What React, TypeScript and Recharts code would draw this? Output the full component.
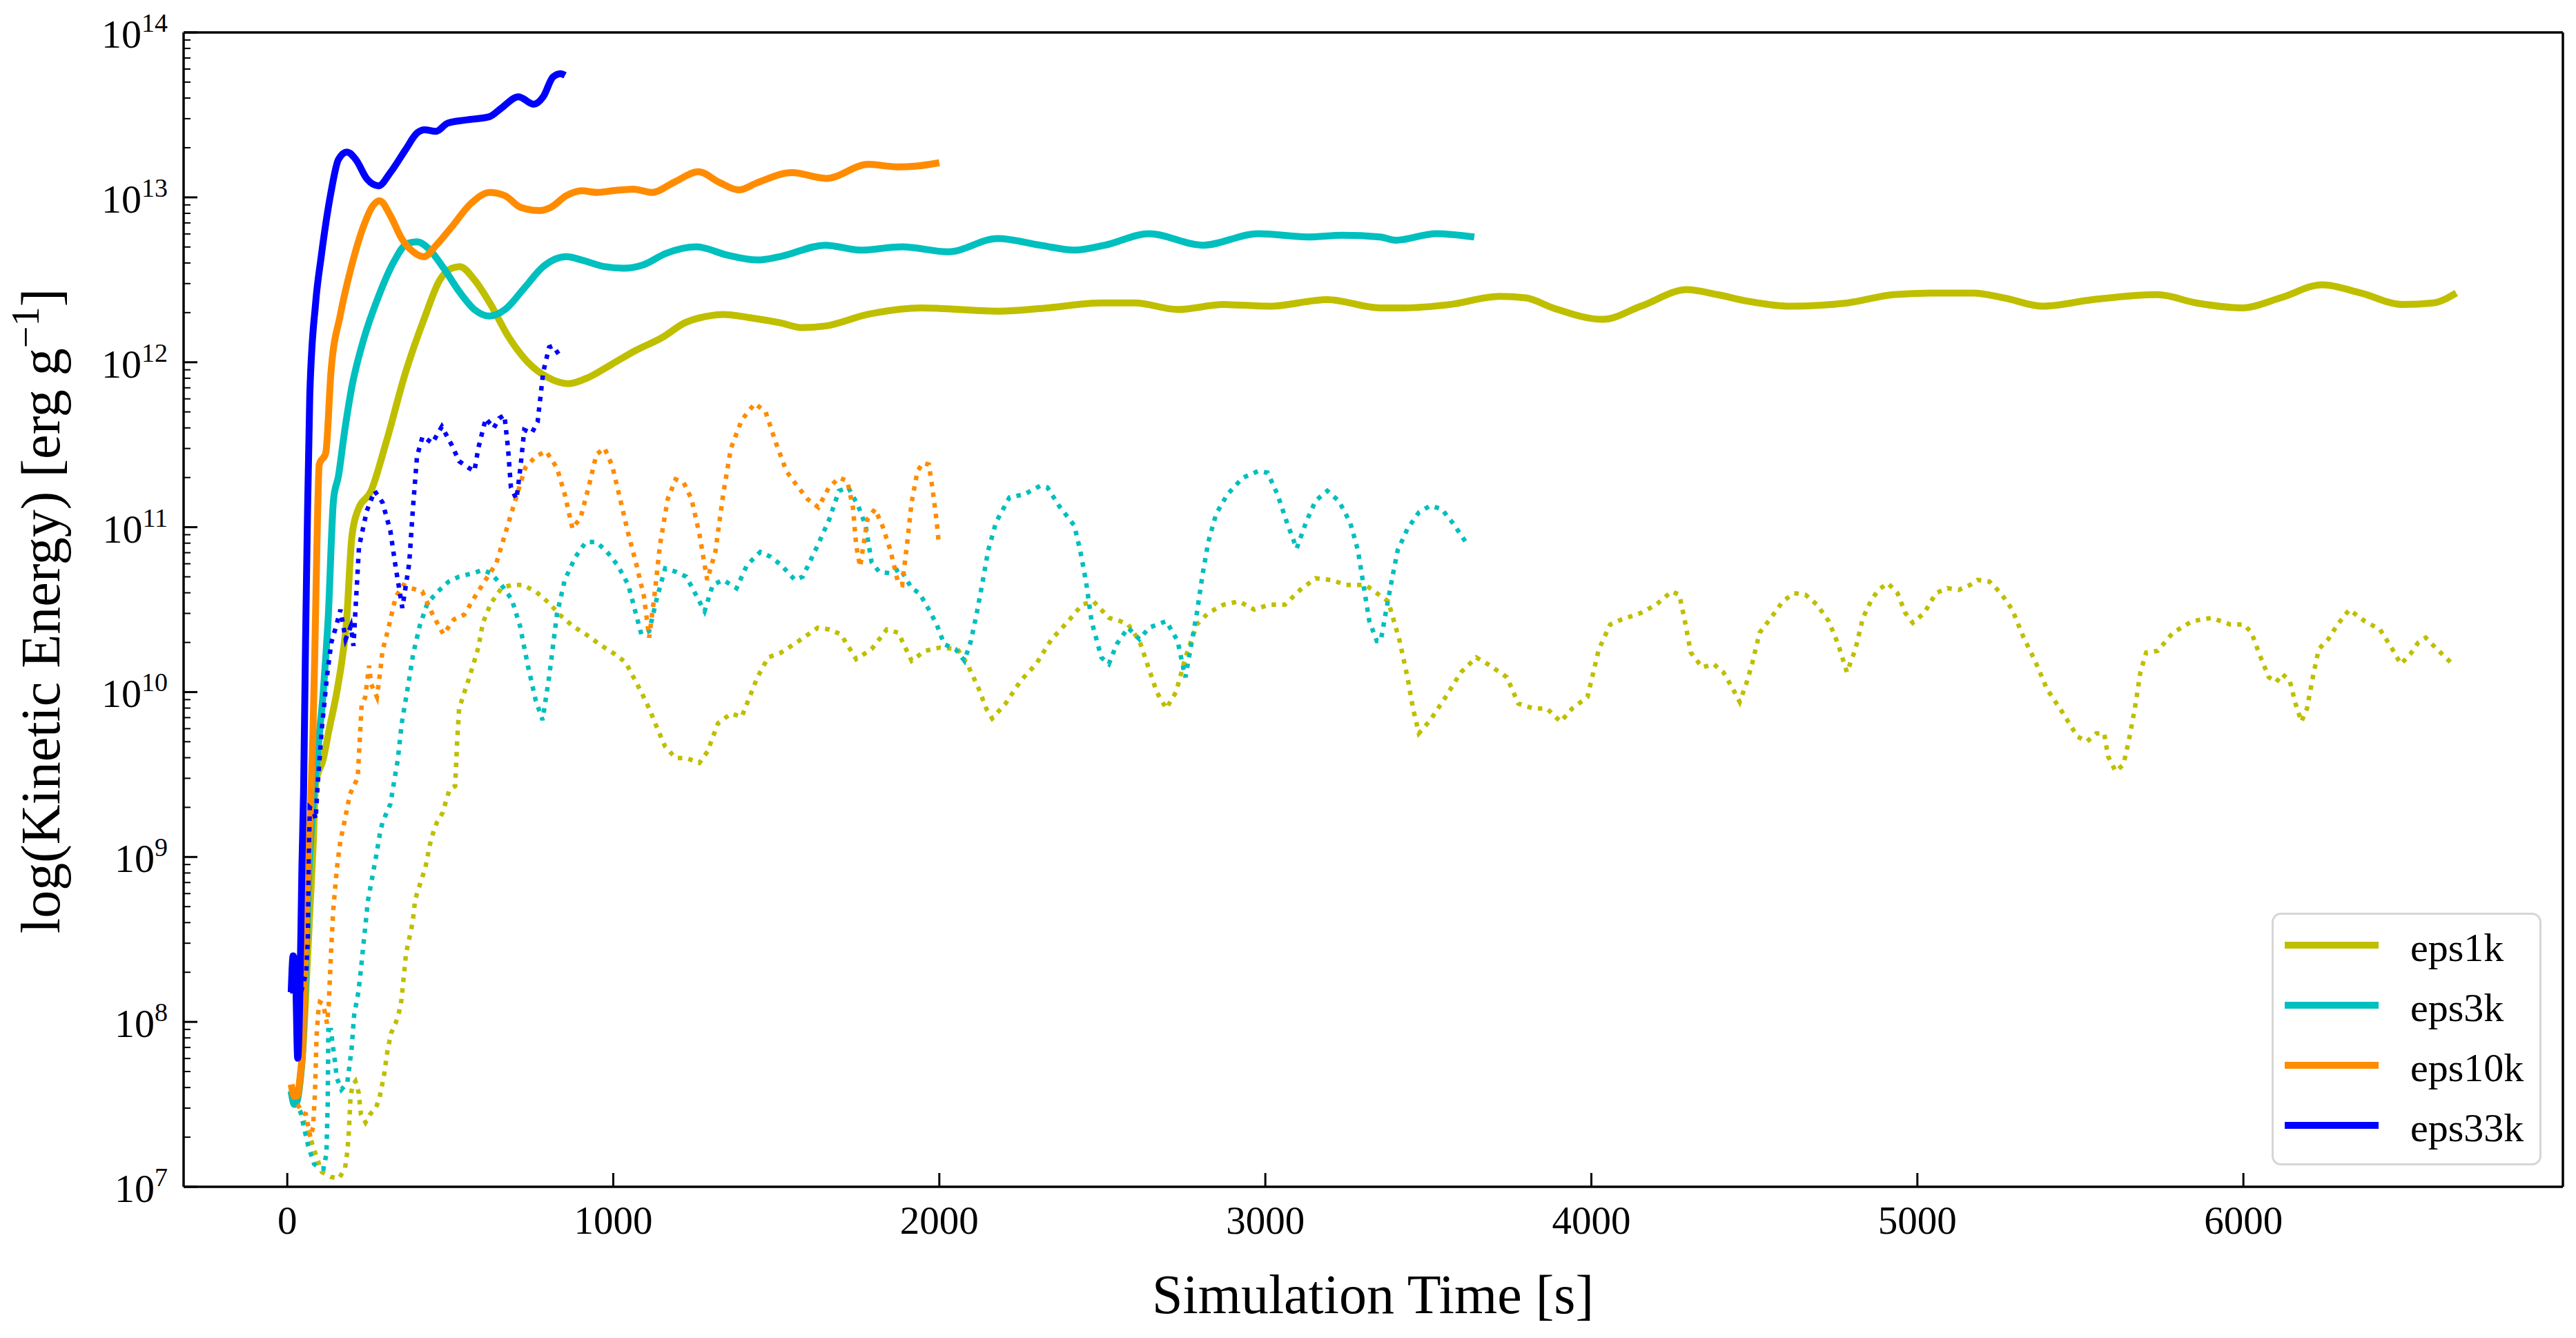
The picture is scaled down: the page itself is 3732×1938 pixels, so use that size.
import React from "react";
import { LineChart, Line, XAxis, YAxis, Legend, ReferenceLine } from "recharts";

const FONT = '"Liberation Serif", "DejaVu Serif", serif';

// [time in s, log10(kinetic energy in erg/g)]
// solid = total, dotted = second component
const eps1kSolid: [number, number][] = [
  [12, 7.58], [22, 7.5], [30, 7.52], [40, 7.65], [50, 7.9], [60, 8.3], [70, 8.7], [80, 9.1], [87, 9.45],
  [110, 9.59], [128, 9.77], [151, 9.99], [169, 10.21], [181, 10.41], [198, 10.94], [216, 11.1], [257, 11.22],
  [304, 11.52], [363, 11.94], [421, 12.27], [468, 12.5], [504, 12.57], [529, 12.58], [574, 12.5], [621, 12.36],
  [680, 12.15], [738, 12.0], [797, 11.91], [862, 11.87], [926, 11.91], [997, 11.99], [1067, 12.07], [1150, 12.15],
  [1220, 12.24], [1290, 12.28], [1337, 12.29], [1420, 12.27], [1510, 12.24], [1580, 12.21], [1651, 12.22],
  [1780, 12.29], [1944, 12.33], [2180, 12.31], [2332, 12.33], [2497, 12.36], [2600, 12.36], [2731, 12.32],
  [2872, 12.35], [3013, 12.34], [3190, 12.38], [3352, 12.33], [3424, 12.33], [3565, 12.35], [3718, 12.4],
  [3800, 12.39], [3882, 12.33], [4035, 12.26], [4152, 12.34], [4293, 12.44], [4387, 12.41], [4481, 12.37],
  [4610, 12.34], [4786, 12.36], [4927, 12.41], [5056, 12.42], [5172, 12.42], [5267, 12.39], [5385, 12.34],
  [5538, 12.38], [5737, 12.41], [5855, 12.36], [5996, 12.33], [6113, 12.39], [6242, 12.47], [6360, 12.42],
  [6489, 12.35], [6583, 12.36], [6653, 12.42],
];

const eps1kDotted: [number, number][] = [
  [12, 7.58], [25, 7.5], [39, 7.46], [53, 7.39], [70, 7.3], [90, 7.18], [106, 7.09], [134, 7.06], [158, 7.05],
  [177, 7.11], [184, 7.21], [188, 7.3], [191, 7.42], [194, 7.55], [201, 7.62], [209, 7.64], [219, 7.57],
  [226, 7.44], [240, 7.39], [254, 7.44], [272, 7.48], [283, 7.54], [290, 7.61], [297, 7.68], [307, 7.82],
  [318, 7.93], [332, 7.99], [343, 8.06], [350, 8.13], [357, 8.27], [364, 8.41], [371, 8.48], [378, 8.54],
  [385, 8.61], [392, 8.74], [403, 8.81], [413, 8.87], [424, 8.94], [431, 9.01], [438, 9.08], [448, 9.15],
  [459, 9.21], [477, 9.27], [487, 9.34], [498, 9.41], [515, 9.43], [521, 9.7], [527, 9.9], [545, 10.01],
  [557, 10.08], [574, 10.19], [586, 10.27], [600, 10.42], [625, 10.54], [657, 10.63], [689, 10.65], [722, 10.65],
  [762, 10.61], [803, 10.54], [835, 10.47], [876, 10.4], [916, 10.35], [965, 10.28], [1005, 10.23], [1038, 10.18],
  [1062, 10.09], [1086, 10.0], [1110, 9.9], [1135, 9.78], [1159, 9.67], [1191, 9.6], [1224, 9.6], [1264, 9.57],
  [1289, 9.64], [1321, 9.81], [1361, 9.87], [1394, 9.85], [1418, 9.97], [1442, 10.09], [1475, 10.21],
  [1515, 10.24], [1569, 10.31], [1627, 10.39], [1663, 10.38], [1698, 10.35], [1745, 10.2], [1792, 10.26],
  [1839, 10.38], [1874, 10.36], [1915, 10.19], [1956, 10.25], [2003, 10.27], [2056, 10.26], [2086, 10.17],
  [2121, 10.02], [2144, 9.9], [2162, 9.84], [2203, 9.93], [2250, 10.07], [2297, 10.17], [2344, 10.32],
  [2391, 10.42], [2438, 10.53], [2473, 10.55], [2520, 10.45], [2555, 10.43], [2579, 10.41], [2614, 10.31],
  [2638, 10.17], [2667, 10.0], [2696, 9.9], [2726, 10.0], [2755, 10.21], [2790, 10.41], [2825, 10.48],
  [2872, 10.53], [2919, 10.55], [2966, 10.5], [3013, 10.53], [3060, 10.53], [3107, 10.62], [3154, 10.69],
  [3201, 10.68], [3248, 10.65], [3307, 10.65], [3377, 10.55], [3412, 10.31], [3436, 10.09], [3453, 9.9],
  [3471, 9.75], [3506, 9.83], [3553, 9.97], [3600, 10.12], [3647, 10.21], [3682, 10.17], [3741, 10.09],
  [3776, 9.93], [3823, 9.9], [3864, 9.9], [3906, 9.82], [3941, 9.9], [3988, 9.97], [4023, 10.26], [4058, 10.41],
  [4093, 10.44], [4152, 10.48], [4199, 10.53], [4246, 10.61], [4270, 10.59], [4287, 10.43], [4305, 10.24],
  [4340, 10.15], [4375, 10.17], [4405, 10.12], [4434, 10.02], [4455, 9.94], [4475, 10.05], [4493, 10.17],
  [4516, 10.36], [4551, 10.45], [4587, 10.55], [4622, 10.6], [4657, 10.59], [4692, 10.53], [4728, 10.43],
  [4757, 10.29], [4784, 10.12], [4810, 10.26], [4833, 10.45], [4857, 10.55], [4880, 10.62], [4910, 10.66],
  [4939, 10.6], [4963, 10.48], [4986, 10.42], [5021, 10.48], [5057, 10.6], [5092, 10.63], [5127, 10.62],
  [5162, 10.65], [5185, 10.68], [5221, 10.67], [5256, 10.6], [5291, 10.5], [5326, 10.33], [5361, 10.19],
  [5397, 10.02], [5444, 9.88], [5491, 9.73], [5520, 9.7], [5549, 9.75], [5573, 9.75], [5585, 9.61], [5608, 9.52],
  [5632, 9.56], [5649, 9.71], [5667, 9.9], [5684, 10.12], [5702, 10.24], [5737, 10.25], [5784, 10.36],
  [5843, 10.43], [5902, 10.45], [5960, 10.41], [6002, 10.41], [6025, 10.36], [6049, 10.23], [6078, 10.09],
  [6101, 10.06], [6119, 10.11], [6142, 10.07], [6160, 9.93], [6178, 9.82], [6195, 9.9], [6213, 10.09],
  [6231, 10.26], [6260, 10.32], [6289, 10.41], [6325, 10.5], [6372, 10.43], [6419, 10.38], [6454, 10.27],
  [6483, 10.17], [6512, 10.23], [6536, 10.3], [6559, 10.33], [6589, 10.27], [6636, 10.18],
];

const eps3kSolid: [number, number][] = [
  [12, 7.58], [22, 7.5], [30, 7.52], [40, 7.66], [48, 7.86], [55, 8.25], [60, 8.55], [66, 8.9], [73, 9.15],
  [80, 9.35], [87, 9.5], [93, 9.62], [100, 9.78], [110, 9.99], [118, 10.21], [125, 10.43], [142, 11.17],
  [157, 11.31], [175, 11.57], [198, 11.85], [233, 12.13], [280, 12.4], [327, 12.61], [368, 12.72], [398, 12.73],
  [433, 12.69], [480, 12.57], [527, 12.43], [574, 12.32], [621, 12.28], [668, 12.32], [727, 12.45], [785, 12.58],
  [856, 12.64], [903, 12.62], [973, 12.58], [1032, 12.57], [1091, 12.59], [1161, 12.66], [1255, 12.7],
  [1349, 12.65], [1443, 12.62], [1510, 12.64], [1651, 12.71], [1757, 12.68], [1886, 12.7], [2027, 12.67],
  [2179, 12.75], [2309, 12.71], [2414, 12.68], [2508, 12.71], [2643, 12.78], [2808, 12.71], [2978, 12.78],
  [3131, 12.76], [3236, 12.77], [3352, 12.76], [3400, 12.74], [3524, 12.78], [3641, 12.76],
];

const eps3kDotted: [number, number][] = [
  [12, 7.58], [29, 7.51], [43, 7.44], [50, 7.37], [57, 7.31], [64, 7.25], [82, 7.14], [100, 7.11], [111, 7.11],
  [120, 7.2], [124, 7.5], [126, 7.95], [134, 7.95], [140, 7.85], [145, 7.78], [152, 7.66], [166, 7.59],
  [184, 7.63], [197, 7.83], [205, 8.04], [218, 8.18], [226, 8.32], [233, 8.46], [240, 8.59], [247, 8.73],
  [260, 8.87], [273, 9.01], [284, 9.14], [292, 9.21], [316, 9.32], [339, 9.59], [351, 9.81], [374, 10.08],
  [386, 10.23], [406, 10.4], [430, 10.54], [462, 10.61], [495, 10.67], [527, 10.7], [568, 10.72], [600, 10.74],
  [625, 10.72], [657, 10.65], [689, 10.56], [714, 10.4], [738, 10.16], [762, 9.95], [783, 9.83], [803, 10.09],
  [827, 10.47], [851, 10.68], [884, 10.82], [916, 10.91], [948, 10.91], [981, 10.85], [1013, 10.77],
  [1046, 10.65], [1070, 10.47], [1086, 10.35], [1110, 10.37], [1135, 10.58], [1159, 10.75], [1191, 10.73],
  [1224, 10.7], [1256, 10.58], [1280, 10.49], [1305, 10.65], [1337, 10.68], [1378, 10.63], [1410, 10.77],
  [1451, 10.85], [1483, 10.82], [1515, 10.77], [1557, 10.68], [1581, 10.7], [1627, 10.89], [1663, 11.05],
  [1692, 11.22], [1721, 11.24], [1751, 11.13], [1774, 11.01], [1792, 10.79], [1815, 10.73], [1851, 10.72],
  [1880, 10.75], [1915, 10.63], [1939, 10.6], [1968, 10.5], [1992, 10.41], [2015, 10.29], [2050, 10.26],
  [2077, 10.19], [2097, 10.31], [2115, 10.48], [2133, 10.67], [2150, 10.86], [2174, 11.03], [2215, 11.18],
  [2262, 11.2], [2309, 11.25], [2332, 11.24], [2367, 11.13], [2414, 11.01], [2432, 10.86], [2450, 10.67],
  [2467, 10.43], [2497, 10.21], [2520, 10.17], [2544, 10.29], [2579, 10.39], [2614, 10.32], [2643, 10.39],
  [2696, 10.43], [2731, 10.31], [2749, 10.14], [2755, 10.09], [2773, 10.29], [2790, 10.48], [2808, 10.72],
  [2825, 10.91], [2849, 11.08], [2884, 11.2], [2931, 11.3], [2978, 11.34], [3007, 11.33], [3037, 11.2],
  [3066, 11.03], [3096, 10.87], [3125, 11.03], [3154, 11.16], [3190, 11.22], [3225, 11.16], [3260, 11.03],
  [3284, 10.86], [3301, 10.65], [3319, 10.43], [3342, 10.31], [3354, 10.31], [3371, 10.5], [3389, 10.69],
  [3406, 10.86], [3436, 10.99], [3471, 11.09], [3506, 11.13], [3541, 11.11], [3577, 11.02], [3618, 10.9],
];

const eps10kSolid: [number, number][] = [
  [12, 7.62], [22, 7.55], [30, 7.55], [40, 7.68], [48, 7.88], [53, 8.27], [57, 8.55], [64, 8.96], [71, 9.28],
  [78, 9.7], [84, 10.2], [91, 10.9], [98, 11.38], [118, 11.45], [134, 11.94], [163, 12.29], [198, 12.59],
  [233, 12.82], [263, 12.95], [283, 12.98], [316, 12.89], [351, 12.75], [386, 12.67], [419, 12.64], [457, 12.71],
  [504, 12.82], [562, 12.96], [621, 13.03], [668, 13.01], [715, 12.94], [774, 12.92], [809, 12.94], [856, 13.01],
  [903, 13.04], [950, 13.03], [997, 13.04], [1061, 13.05], [1120, 13.03], [1185, 13.09], [1261, 13.155],
  [1326, 13.09], [1385, 13.045], [1443, 13.09], [1548, 13.15], [1653, 13.115], [1782, 13.2], [1871, 13.185],
  [1930, 13.19], [2000, 13.21],
];

const eps10kDotted: [number, number][] = [
  [12, 7.62], [22, 7.52], [32, 7.5], [45, 7.45], [57, 7.44], [71, 7.3], [79, 7.36], [85, 7.57], [90, 7.92],
  [95, 8.06], [100, 8.12], [110, 8.11], [117, 8.04], [122, 7.99], [127, 8.1], [134, 8.41], [141, 8.68],
  [152, 8.93], [163, 9.1], [175, 9.21], [192, 9.38], [216, 9.48], [228, 9.92], [239, 9.97], [251, 10.16],
  [257, 10.05], [275, 9.97], [286, 10.14], [292, 10.25], [308, 10.37], [333, 10.58], [357, 10.65], [381, 10.63],
  [414, 10.61], [446, 10.47], [479, 10.35], [511, 10.44], [543, 10.47], [576, 10.58], [608, 10.68], [641, 10.78],
  [673, 10.99], [705, 11.2], [730, 11.36], [762, 11.43], [794, 11.46], [827, 11.36], [851, 11.2], [875, 10.99],
  [900, 11.06], [924, 11.24], [948, 11.44], [973, 11.48], [997, 11.37], [1021, 11.17], [1046, 10.96],
  [1070, 10.78], [1094, 10.58], [1110, 10.33], [1126, 10.58], [1143, 10.89], [1167, 11.17], [1191, 11.29],
  [1216, 11.27], [1240, 11.17], [1264, 10.96], [1288, 10.68], [1313, 10.85], [1337, 11.2], [1361, 11.48],
  [1394, 11.65], [1434, 11.75], [1467, 11.7], [1499, 11.51], [1531, 11.34], [1564, 11.25], [1596, 11.17],
  [1629, 11.12], [1661, 11.24], [1693, 11.3], [1718, 11.28], [1735, 11.12], [1745, 10.89], [1757, 10.76],
  [1780, 11.05], [1803, 11.11], [1827, 11.0], [1850, 10.86], [1874, 10.66], [1886, 10.65], [1903, 10.93],
  [1915, 11.15], [1933, 11.34], [1950, 11.39], [1968, 11.38], [1980, 11.22], [1991, 11.05], [1998, 10.91],
];

const eps33kSolid: [number, number][] = [
  [12, 8.18], [18, 8.4], [25, 8.3], [32, 7.78], [38, 8.1], [45, 8.95], [50, 9.4], [56, 10.3], [61, 10.95],
  [69, 11.8], [87, 12.36], [104, 12.64], [134, 13.03], [157, 13.23], [183, 13.275], [210, 13.23], [245, 13.11],
  [280, 13.07], [316, 13.15], [363, 13.29], [398, 13.39], [421, 13.41], [456, 13.4], [492, 13.45], [550, 13.47],
  [621, 13.49], [656, 13.54], [709, 13.61], [756, 13.565], [785, 13.61], [815, 13.73], [838, 13.75], [852, 13.74],
];

const eps33kDotted: [number, number][] = [
  [12, 8.2], [30, 8.1], [45, 8.2], [58, 8.3], [63, 8.5], [66, 9.0], [69, 9.3], [80, 9.28], [87, 9.23],
  [93, 9.43], [105, 9.76], [122, 10.1], [135, 10.3], [150, 10.4], [163, 10.5], [179, 10.32], [195, 10.4],
  [203, 10.28], [220, 10.88], [244, 11.1], [268, 11.22], [292, 11.15], [316, 10.98], [333, 10.75], [353, 10.51],
  [374, 10.78], [386, 11.13], [398, 11.43], [415, 11.55], [445, 11.51], [474, 11.61], [504, 11.5], [527, 11.4],
  [556, 11.36], [574, 11.34], [586, 11.48], [609, 11.66], [633, 11.6], [650, 11.66], [666, 11.68], [677, 11.48],
  [686, 11.24], [703, 11.17], [715, 11.36], [727, 11.59], [750, 11.57], [768, 11.64], [785, 11.94], [803, 12.09],
  [815, 12.1], [832, 12.05],
];

const seriesNames = ["eps1k", "eps3k", "eps10k", "eps33k"];
const seriesColors = ["#bfbf00", "#00bfbf", "#ff8c00", "#0000ff"];
const solidData = [eps1kSolid, eps3kSolid, eps10kSolid, eps33kSolid];
const dottedData = [eps1kDotted, eps3kDotted, eps10kDotted, eps33kDotted];

const xTicks = [0, 1000, 2000, 3000, 4000, 5000, 6000];
const yExponents = [7, 8, 9, 10, 11, 12, 13, 14];
const xLabel = "Simulation Time [s]";

// log axis ticks: majors at 10^n plus matplotlib-style minors at 2..9 x 10^n
const yTicks: number[] = [];
yExponents.forEach((n) => {
  if (n === 14) {
    yTicks.push(1e14);
    return;
  }
  for (let k = 1; k < 10; k++) yTicks.push(k * Math.pow(10, n));
});

const toRows = (pts: [number, number][]) => pts.map(([t, lg]) => ({ t, e: Math.pow(10, lg) }));

function YTick({ x, y, payload }: any) {
  const v = payload.value;
  const exp = Math.round(Math.log10(v));
  const major = Math.abs(v / Math.pow(10, exp) - 1) < 1e-6;
  if (!major) {
    return <line x1={x} x2={x + 10} y1={y} y2={y} stroke="#000" strokeWidth={2} />;
  }
  return (
    <g>
      <line x1={x} x2={x + 20} y1={y} y2={y} stroke="#000" strokeWidth={3} />
      <text x={x - 23} y={y + 22} textAnchor="end" fontFamily={FONT} fontSize={58} fill="#000">
        10
        <tspan dy={-23} fontSize={38}>
          {exp}
        </tspan>
      </text>
    </g>
  );
}

function XTick({ x, y, payload }: any) {
  return (
    <g>
      <line x1={x} x2={x} y1={y} y2={y - 20} stroke="#000" strokeWidth={3} />
      <text x={x} y={y + 68} textAnchor="middle" fontFamily={FONT} fontSize={57} fill="#000">
        {payload.value}
      </text>
    </g>
  );
}

function XLabel() {
  return (
    <text x={1989} y={1902} textAnchor="middle" fontFamily={FONT} fontSize={80} fill="#000">
      {xLabel}
    </text>
  );
}

function YLabel() {
  return (
    <text
      x={86}
      y={885}
      transform="rotate(-90 86 885)"
      textAnchor="middle"
      fontFamily={FONT}
      fontSize={80}
      fill="#000"
    >
      log(Kinetic Energy) [erg g
      <tspan dy={-30} fontSize={56}>
        −1
      </tspan>
      <tspan dy={30}>]</tspan>
    </text>
  );
}

function LegendBox() {
  return (
    <svg width={391} height={366} style={{ display: "block" }}>
      <rect x={1.5} y={1.5} width={388} height={363} rx={12} ry={12} fill="#fff" fillOpacity={0.8} stroke="#d6d6d6" strokeWidth={3} />
      {seriesNames.map((name, i) => {
        const cy = 47 + i * 87;
        return (
          <g key={name}>
            <line x1={19} x2={155} y1={cy} y2={cy} stroke={seriesColors[i]} strokeWidth={10} />
            <text x={201} y={cy + 23} fontFamily={FONT} fontSize={58} fill="#000">
              {name}
            </text>
          </g>
        );
      })}
    </svg>
  );
}

export default function App() {
  return (
    <div style={{ position: "absolute", left: 0, top: 0, background: "#fff" }}>
      <LineChart width={3732} height={1938} margin={{ top: 47, right: 19, bottom: 0, left: 0 }}>
        <XAxis
          type="number"
          dataKey="t"
          domain={[-318, 6980]}
          allowDataOverflow
          ticks={xTicks}
          interval={0}
          height={219}
          tickSize={0}
          tickMargin={0}
          tickLine={false}
          axisLine={{ stroke: "#000", strokeWidth: 3.5 }}
          tick={<XTick />}
          label={<XLabel />}
        />
        <YAxis
          type="number"
          scale="log"
          domain={[1e7, 1e14]}
          allowDataOverflow
          ticks={yTicks}
          interval={0}
          width={266}
          tickSize={0}
          tickMargin={0}
          tickLine={false}
          axisLine={{ stroke: "#000", strokeWidth: 3.5 }}
          tick={<YTick />}
          label={<YLabel />}
        />
        <ReferenceLine y={1e14} stroke="#000" strokeWidth={3.5} />
        <ReferenceLine x={6980} stroke="#000" strokeWidth={3.5} />
        {seriesNames.map((name, i) => [
          <Line
            key={name + "-solid"}
            name={name}
            data={toRows(solidData[i])}
            dataKey="e"
            type="monotone"
            stroke={seriesColors[i]}
            strokeWidth={10}
            dot={false}
            activeDot={false}
            isAnimationActive={false}
          />,
          <Line
            key={name + "-dotted"}
            name={name + " dotted"}
            data={toRows(dottedData[i])}
            dataKey="e"
            type="linear"
            stroke={seriesColors[i]}
            strokeWidth={6.5}
            strokeDasharray="6.5 9"
            dot={false}
            activeDot={false}
            legendType="none"
            isAnimationActive={false}
          />,
        ])}
        <Legend
          layout="vertical"
          align="center"
          verticalAlign="middle"
          content={() => <LegendBox />}
          wrapperStyle={{ position: "absolute", left: 3291, top: 1322, width: 391, height: 366 }}
        />
      </LineChart>
    </div>
  );
}
